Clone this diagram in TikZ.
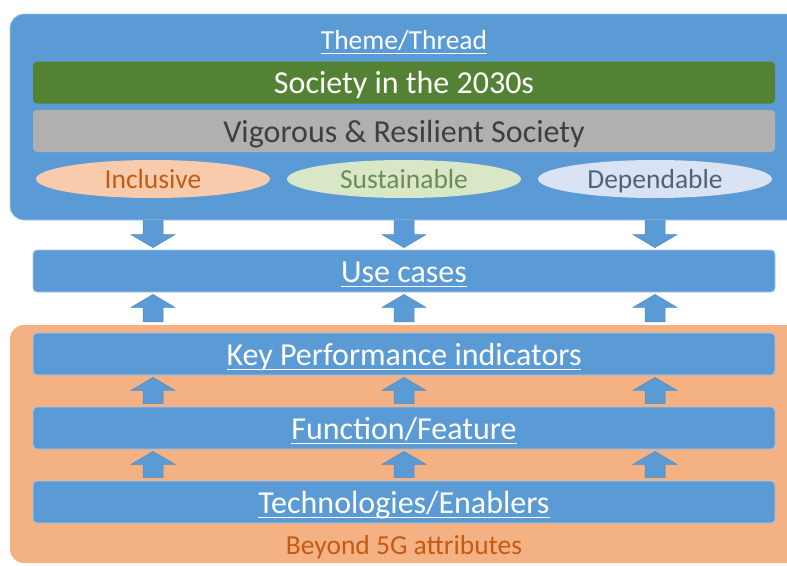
\documentclass[tikz,border=0pt]{standalone}
\usepackage{fontspec}
\setmainfont{Carlito}
\usetikzlibrary{shapes.geometric, calc}

\definecolor{boxblue}{HTML}{5B9BD5}
\definecolor{rimblue}{HTML}{A4C6EA}
\definecolor{attrorange}{HTML}{F4B183}
\definecolor{socgreen}{HTML}{548235}
\definecolor{vigorgray}{HTML}{B0B0B0}
\definecolor{vigortext}{HTML}{3F3F3F}
\definecolor{inclfill}{HTML}{F8CBAD}
\definecolor{incltext}{HTML}{C55A11}
\definecolor{sustfill}{HTML}{D8E7C6}
\definecolor{susttext}{HTML}{6F8A58}
\definecolor{depfill}{HTML}{DAE3F3}
\definecolor{deptext}{HTML}{50627A}

\newcommand{\bigfont}{\fontsize{32}{36}\selectfont}
\newcommand{\midfont}{\fontsize{27.5}{31}\selectfont}
% underline at a fixed depth below the baseline
\newsavebox{\ulbox}
\newcommand{\ulab}[1]{\sbox{\ulbox}{#1}\rlap{\rule[-5pt]{\wd\ulbox}{1.4pt}}\usebox{\ulbox}}

% block arrows between two boxes at a given x
\newcommand{\uparr}[3]{%
  \filldraw[blockarr] ($(#1,0 |- #2.south)+(0,2)$) -- ++(22,13) -- ++(-12,0)
    |- ($(#1,0 |- #3.north)+(-10,-3)$) |- ($(#1,0 |- #2.south)+(-22,15)$) -- cycle;}
\newcommand{\downarr}[3]{%
  \filldraw[blockarr] ($(#1,0 |- #3.north)+(0,-2)$) -- ++(22,-13) -- ++(-12,0)
    |- ($(#1,0 |- #2.south)+(-10,0)$) |- ($(#1,0 |- #3.north)+(-22,-15)$) -- cycle;}

\begin{document}
\begin{tikzpicture}[
    x=1pt, y=-1pt,
    panel/.style   ={rounded corners=14pt, inner sep=0pt, minimum width=800pt},
    bar/.style     ={rounded corners=4pt, inner sep=0pt, minimum width=742pt,
                     minimum height=42pt, text height=23pt, text depth=1pt,
                     font=\bigfont, text=white},
    labelbar/.style={bar, fill=boxblue, draw=rimblue, line width=0.8pt},
    attr/.style    ={ellipse, inner sep=0pt, minimum width=234pt,
                     minimum height=38pt, text height=18pt, text depth=0pt,
                     font=\midfont},
    blockarr/.style={fill=boxblue, draw=boxblue!90!black, line width=0.5pt}
]
\useasboundingbox (0,0) rectangle (787,565);
\clip (0,0) rectangle (787,565);

% Panels
\node[panel, fill=boxblue, draw=rimblue, line width=0.8pt, minimum height=206pt]
    (theme) at (410,117) {};
\node[panel, fill=attrorange, minimum height=238pt] (beyond) at (410,444) {};

% Theme/Thread block
\node[font=\midfont, text=white, anchor=base] (themelbl) at (404,49) {\ulab{Theme/Thread}};
\node[bar, fill=socgreen] (society) at (404,82.5) {Society in the 2030s};
\node[bar, fill=vigorgray, text=vigortext] (vigor) at (404,131)
    {Vigorous \& Resilient Society};
\node[attr, fill=inclfill, text=incltext] (incl) at (153,179) {Inclusive};
\node[attr, fill=sustfill, text=susttext] (sust) at (404,179) {Sustainable};
\node[attr, fill=depfill, text=deptext]   (dep)  at (655,179) {Dependable};

% Use cases
\node[labelbar] (use) at (404,271) {\ulab{Use cases}};

% Beyond 5G block
\node[labelbar] (kpi)  at (404,354) {\ulab{Key Performance indicators}};
\node[labelbar] (func) at (404,428) {\ulab{Function/Feature}};
\node[labelbar] (tech) at (404,502) {\ulab{Technologies/Enablers}};
\node[font=\midfont, text=incltext, anchor=base] (beyondlbl) at (404,554)
    {Beyond 5G attributes};

% Arrows
\foreach \ax in {153,404,655} {
  \downarr{\ax}{theme}{use}
  \uparr{\ax}{use}{beyond}
  \uparr{\ax}{kpi}{func}
  \uparr{\ax}{func}{tech}
}
\end{tikzpicture}
\end{document}
